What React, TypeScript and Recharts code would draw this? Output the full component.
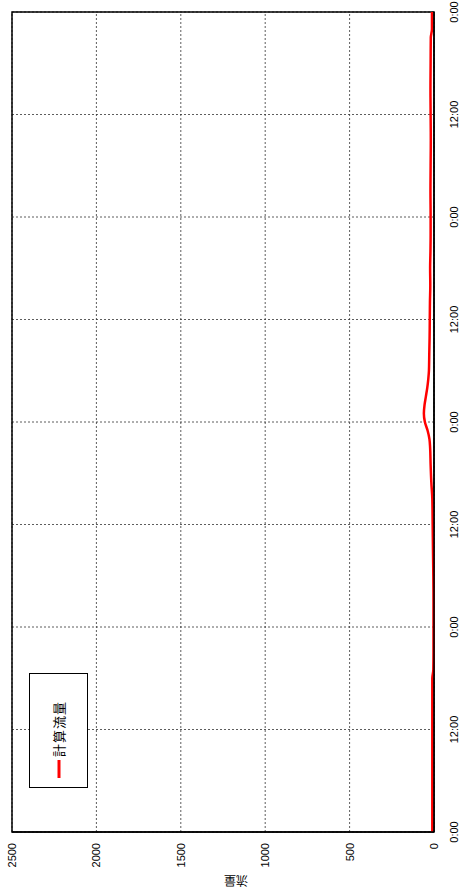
import {
  LineChart,
  Line,
  XAxis,
  YAxis,
  CartesianGrid,
  ReferenceArea,
} from "recharts";

// elapsed hours since first 0:00
const hours = [
  0, 3, 6, 9, 12, 15, 18, 19, 21, 24, 27, 30, 33, 36, 39, 41, 43, 45, 46, 47, 48, 49, 50,
  51, 52, 53, 54, 56, 58, 60, 62, 64, 66, 68, 70, 72, 75, 78, 81, 84, 87, 90, 93, 94, 96,
];
const flow = [
  10, 10, 10, 10, 10, 10, 10, 4, 3, 3, 3, 4, 6, 8, 10, 16, 20, 23, 27, 38, 54, 60, 56,
  48, 40, 34, 30, 28, 26, 25, 24, 22, 23, 21, 20, 20, 21, 20, 19, 20, 21, 20, 19, 12, 12,
];
const timeTicks = [0, 12, 24, 36, 48, 60, 72, 84, 96];
const flowTicks = [0, 500, 1000, 1500, 2000, 2500];
const seriesName = "計算流量";
const axisTitle = "流量";

const data = hours.map((t, i) => ({ t, flow: flow[i] }));

const tickFont = { fontSize: 11, fill: "#000", fontFamily: "'Liberation Sans', Arial, sans-serif" };

// legend box drawn over the plot (chart is rotated as a whole)
function LegendBox() {
  return (
    <div
      style={{
        position: "absolute",
        left: 105,
        top: 29,
        width: 115,
        height: 59,
        boxSizing: "border-box",
        border: "1px solid #000",
        background: "#fff",
        display: "flex",
        alignItems: "center",
      }}
    >
      <svg width={30} height={10} style={{ flex: "none" }}>
        <line x1={9} y1={5} x2={27} y2={5} stroke="#ff0000" strokeWidth={3} />
      </svg>
      <span
        style={{
          fontFamily: "'Noto Sans CJK JP', sans-serif",
          fontSize: 13,
          letterSpacing: 1,
          color: "#000",
        }}
      >
        {seriesName}
      </span>
    </div>
  );
}

export default function App() {
  return (
    <div
      style={{
        position: "fixed",
        left: 0,
        top: 0,
        width: 465,
        height: 893,
        overflow: "hidden",
        background: "#fff",
      }}
    >
      <div
        style={{
          position: "absolute",
          left: 0,
          top: 0,
          width: 893,
          height: 465,
          transformOrigin: "0 0",
          transform: "translateY(893px) rotate(-90deg)",
        }}
      >
        <LineChart width={893} height={465} data={data} margin={{ top: 12, right: 12, bottom: 1, left: 0 }}>
          <CartesianGrid stroke="#333" strokeDasharray="2 2" strokeWidth={0.8} />
          <XAxis
            dataKey="t"
            type="number"
            domain={[0, 96]}
            ticks={timeTicks}
            tickFormatter={(v: number) => (v % 24 === 0 ? "0:00" : "12:00")}
            tick={tickFont}
            tickLine={false}
            tickMargin={10}
            axisLine={{ stroke: "#000", strokeWidth: 1.5 }}
            height={30}
            interval={0}
          />
          <YAxis
            type="number"
            domain={[0, 2500]}
            ticks={flowTicks}
            tick={tickFont}
            tickLine={false}
            tickMargin={5}
            axisLine={{ stroke: "#000", strokeWidth: 1.5 }}
            width={61}
            interval={0}
            label={{
              content: (props: any) => {
                const vb = props.viewBox;
                const cx = 12;
                const cy = vb.y + vb.height / 2 + 13;
                return (
                  <text
                    x={cx}
                    y={cy}
                    transform={`rotate(-90, ${cx}, ${cy})`}
                    textAnchor="middle"
                    dominantBaseline="central"
                    fontSize={12}
                    fontFamily="'Noto Sans CJK JP', sans-serif"
                    fill="#000"
                  >
                    {axisTitle}
                  </text>
                );
              },
            }}
          />
          <ReferenceArea x1={0} x2={96} y1={0} y2={2500} fill="none" stroke="#000" strokeWidth={1.5} />
          <Line
            type="monotone"
            dataKey="flow"
            name={seriesName}
            stroke="#ff0000"
            strokeWidth={2.5}
            dot={false}
            activeDot={false}
            isAnimationActive={false}
          />
        </LineChart>
        <LegendBox />
      </div>
    </div>
  );
}
